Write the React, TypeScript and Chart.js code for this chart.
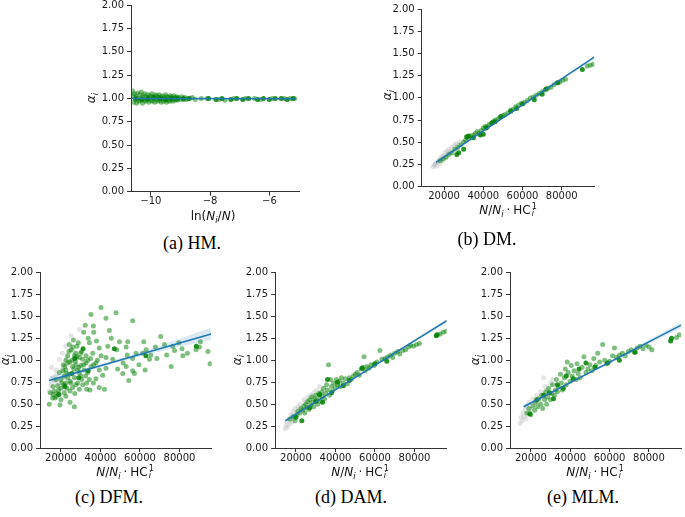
import React, { useEffect, useRef } from 'react';
import { Chart, registerables } from 'chart.js';
Chart.register(...registerables);

type Pt = [number, number];

// ---------- shared tick values ----------
const yTickValues = [0, 0.25, 0.5, 0.75, 1.0, 1.25, 1.5, 1.75, 2.0];
const xTicksLog = [-10, -8, -6];
const xTicksRatio = [20000, 40000, 60000, 80000];

// ---------- (a) HM ----------
const hmGray: Pt[] = [];
const hmLight: Pt[] = [
  [-10.62, 1.08], [-10.6, 1.03], [-10.58, 0.96], [-10.55, 1.05], [-10.52, 0.99], [-10.5, 1.02], [-10.48, 0.95],
  [-10.45, 1.06], [-10.42, 1.0], [-10.4, 0.97], [-10.37, 1.04], [-10.35, 0.98], [-10.32, 1.07], [-10.3, 1.01],
  [-10.28, 0.95], [-10.25, 1.03], [-10.22, 0.98], [-10.2, 1.05], [-10.17, 0.97], [-10.15, 1.02], [-10.12, 0.99],
  [-10.1, 1.04], [-10.07, 0.96], [-10.05, 1.01], [-10.02, 1.03], [-10.0, 0.98], [-9.97, 1.05], [-9.95, 0.97],
  [-9.92, 1.02], [-9.9, 1.0], [-9.87, 0.96], [-9.85, 1.04], [-9.82, 0.99], [-9.8, 1.03], [-9.77, 0.97],
  [-9.75, 1.01], [-9.72, 1.04], [-9.7, 0.98], [-9.67, 1.02], [-9.65, 0.96], [-9.62, 1.0], [-9.6, 1.03],
  [-9.57, 0.97], [-9.55, 1.01], [-9.52, 0.99], [-9.5, 1.04], [-9.47, 0.96], [-9.45, 1.02], [-9.42, 0.98],
  [-9.4, 1.01], [-9.37, 0.97], [-9.35, 1.03], [-9.32, 0.99], [-9.3, 1.02], [-9.27, 0.97], [-9.25, 1.0],
  [-9.22, 1.03], [-9.2, 0.98], [-9.17, 1.01], [-9.15, 0.99], [-9.12, 1.02], [-9.1, 0.98], [-9.05, 1.01],
  [-9.0, 0.99], [-8.95, 1.02], [-8.9, 0.99], [-8.85, 1.01], [-8.8, 0.99], [-8.75, 1.0], [-8.6, 1.01],
  [-8.5, 0.99], [-8.3, 1.0], [-8.1, 1.0], [-7.7, 0.99], [-7.5, 0.98], [-7.2, 1.0], [-6.8, 1.0], [-6.5, 1.0],
  [-6.3, 0.99], [-5.9, 1.0], [-5.5, 1.0], [-5.3, 1.0], [-5.15, 1.0],
];
const hmDark: Pt[] = [
  [-10.5, 1.0], [-10.3, 0.99], [-10.1, 1.0], [-9.9, 1.01], [-9.7, 1.0], [-9.5, 0.99], [-9.3, 1.0], [-9.1, 1.0],
  [-8.9, 1.0], [-8.7, 1.0], [-8.05, 1.0], [-7.8, 0.99], [-7.6, 1.0], [-7.3, 0.99], [-7.1, 1.0], [-6.9, 0.99],
  [-6.7, 1.0], [-6.4, 0.99], [-6.2, 1.0], [-6.0, 0.99], [-5.8, 1.0], [-5.6, 1.0], [-5.4, 0.99], [-5.2, 1.0],
];
const hmFitX = [-10.65, -5.1];
const hmFitY = [1.0, 0.997];
const hmBandX = [-10.65, -8, -5.1];
const hmBandLo = [0.995, 0.996, 0.99];
const hmBandHi = [1.005, 1.002, 1.004];

// ---------- (b) DM ----------
const dmGray: Pt[] = [
  [14500, 0.22], [15000, 0.24], [15500, 0.25], [16000, 0.27], [16500, 0.23], [17000, 0.28], [17500, 0.3],
  [18000, 0.26], [18500, 0.32], [19000, 0.34], [19500, 0.29], [20000, 0.35], [20500, 0.38], [21000, 0.33],
  [21500, 0.4], [22000, 0.37], [22500, 0.42], [23000, 0.39], [24000, 0.44], [25000, 0.46], [26000, 0.48],
  [27000, 0.47], [28000, 0.5],
];
const dmLight: Pt[] = [
  [18000, 0.29], [19500, 0.31], [21000, 0.33], [22500, 0.36], [24000, 0.38], [25500, 0.42], [27000, 0.44],
  [28500, 0.47], [30000, 0.5], [31000, 0.52], [32500, 0.54], [33500, 0.57], [35000, 0.58], [36000, 0.6],
  [37000, 0.62], [38000, 0.6], [39000, 0.63], [40000, 0.66], [41000, 0.68], [42000, 0.67], [43000, 0.7],
  [44000, 0.71], [45000, 0.73], [46000, 0.75], [47500, 0.76], [48500, 0.78], [50000, 0.8], [51000, 0.81],
  [52500, 0.83], [54000, 0.86], [55000, 0.87], [56500, 0.9], [58000, 0.92], [59500, 0.94], [61000, 0.95],
  [62500, 0.97], [64000, 1.0], [65500, 1.01], [67000, 1.03], [68500, 1.05], [70000, 1.07], [71500, 1.09],
  [73000, 1.11], [74500, 1.12], [76000, 1.15], [77500, 1.17], [79000, 1.18], [80500, 1.2], [82000, 1.21],
  [93000, 1.36], [94500, 1.37], [96000, 1.38],
];
const dmDark: Pt[] = [
  [26500, 0.36], [27500, 0.38], [30000, 0.42], [31500, 0.56], [32500, 0.57], [35000, 0.55], [38500, 0.58],
  [40000, 0.59], [41500, 0.66], [44500, 0.72], [46000, 0.73], [49000, 0.79], [54000, 0.85], [57000, 0.88],
  [60000, 0.93], [66000, 0.98], [70000, 1.04], [72000, 1.1], [78000, 1.17], [90500, 1.32],
];
const dmFitX = [15900, 96600];
const dmFitY = [0.27, 1.46];
const dmBandX = [15900, 50000, 96600];
const dmBandLo = [0.26, 0.77, 1.445];
const dmBandHi = [0.28, 0.78, 1.475];

// ---------- (c) DFM ----------
const dfmGray: Pt[] = [
  [14100, 0.65], [14900, 0.71], [15800, 0.8], [16600, 0.76], [17500, 0.89], [17500, 0.63], [17800, 0.84],
  [19200, 1.01], [20800, 1.08], [20800, 0.9], [22500, 1.16], [23000, 1.02], [25100, 1.28], [26000, 1.1],
  [29300, 1.35], [15200, 0.92], [18600, 0.74], [21800, 0.8],
];
const dfmLight: Pt[] = [
  [40280, 1.6], [35200, 1.52], [47900, 1.54], [56300, 1.45], [42800, 1.48], [32300, 1.4], [36400, 1.39],
  [44500, 1.34], [36600, 1.32], [31500, 1.32], [70500, 1.27], [61900, 1.21], [90600, 1.21], [90100, 1.15],
  [94400, 1.1], [95500, 0.96], [88400, 1.12], [81300, 1.13], [77500, 1.11], [76600, 1.16], [79700, 1.2],
  [72400, 1.18], [67800, 1.15], [63100, 1.12], [65500, 1.06], [64800, 1.01], [61400, 1.08], [58000, 1.08],
  [56300, 1.02], [53500, 1.06], [53800, 1.21], [49600, 1.21], [53000, 1.15], [48200, 1.12], [43700, 1.16],
  [39400, 1.14], [42800, 1.03], [46200, 1.01], [48700, 0.9], [53000, 0.93], [56300, 0.88], [54300, 0.77],
  [57200, 0.85], [51300, 0.85], [62600, 0.89], [75800, 0.93], [81700, 1.05], [42800, 0.91], [39400, 0.89],
  [41100, 0.83], [37700, 0.79], [42000, 0.67], [39400, 0.69], [36400, 0.74], [34700, 0.66], [33000, 0.67],
  [34400, 0.78], [31000, 0.72], [30100, 0.82], [28500, 0.89], [27300, 0.99], [27600, 1.08], [28100, 1.16],
  [26300, 1.23], [24200, 1.18], [25100, 1.12], [23400, 1.05], [26800, 1.05], [29300, 1.03], [31000, 1.01],
  [32700, 0.97], [30100, 0.94], [25900, 0.93], [22500, 0.89], [24200, 0.84], [21700, 0.82], [20500, 0.74],
  [18300, 0.71], [16600, 0.65], [14600, 0.63], [14100, 0.5], [15800, 0.57], [17800, 0.59], [20000, 0.55],
  [19500, 0.49], [22500, 0.59], [24600, 0.65], [25900, 0.69], [26800, 0.47], [24600, 0.52], [21700, 0.63],
  [28500, 0.74], [29300, 0.67], [32700, 1.05], [34400, 1.2], [36100, 1.08], [37700, 0.97], [40300, 1.05],
  [23400, 0.97], [21200, 0.95], [19200, 0.86], [17500, 0.78], [20000, 0.78], [22500, 0.74], [24600, 0.76],
  [26800, 0.8], [29300, 0.86], [31800, 0.89], [33500, 0.86], [35200, 0.93], [27000, 0.62], [23000, 0.68],
  [18800, 0.66], [16000, 0.61], [30500, 1.1], [33800, 1.25], [38000, 1.22], [45500, 1.25], [51500, 0.97],
  [59500, 0.95], [68500, 1.02], [84000, 1.08], [73500, 1.06],
  [21000, 0.88], [22000, 0.93], [23500, 0.8], [24500, 0.98], [25500, 1.0], [26500, 0.9], [27500, 0.95],
  [28000, 1.04], [29000, 0.92], [30000, 1.08], [31500, 0.95], [32500, 0.82], [33500, 1.0], [35000, 1.02],
  [36500, 0.95], [38500, 1.0], [20000, 0.68], [18500, 0.62], [17000, 0.57], [16000, 0.7], [21500, 0.72],
  [23000, 0.85], [25000, 0.74], [27500, 0.72], [30500, 0.78], [33000, 0.74], [26000, 1.15], [28800, 1.2],
  [24000, 1.1], [22500, 1.0],
];
const dfmDark: Pt[] = [
  [27000, 1.02], [29000, 0.8], [25500, 0.85], [22000, 0.7], [33800, 0.88], [47000, 1.13], [88500, 1.16],
  [63000, 1.05], [31200, 1.13], [19000, 0.61],
];
const dfmFitX = [14000, 96000];
const dfmFitY = [0.77, 1.3];
const dfmBandX = [14000, 25000, 35000, 55000, 75000, 96000];
const dfmBandLo = [0.725, 0.815, 0.885, 1.015, 1.125, 1.23];
const dfmBandHi = [0.815, 0.865, 0.925, 1.055, 1.205, 1.37];

// ---------- (d) DAM ----------
const damGray: Pt[] = [
  [14500, 0.22], [15000, 0.26], [15500, 0.3], [16000, 0.24], [16500, 0.33], [17000, 0.28], [17500, 0.38],
  [18000, 0.3], [18500, 0.42], [19000, 0.34], [19500, 0.45], [20000, 0.4], [21000, 0.47], [22000, 0.5],
  [23000, 0.44], [24000, 0.55], [25000, 0.52], [26000, 0.58], [27500, 0.6], [29000, 0.63], [30500, 0.66],
  [32000, 0.7],
];
const damLight: Pt[] = [
  [17000, 0.33], [18500, 0.36], [19500, 0.31], [20500, 0.38], [21000, 0.42], [22000, 0.4], [22500, 0.45],
  [23500, 0.43], [24000, 0.48], [24500, 0.4], [25000, 0.5], [25500, 0.46], [26000, 0.53], [26500, 0.44],
  [27000, 0.55], [27500, 0.49], [28000, 0.58], [28500, 0.52], [29000, 0.47], [29500, 0.56], [30000, 0.6],
  [30500, 0.54], [31000, 0.5], [31500, 0.62], [32000, 0.57], [32500, 0.53], [33000, 0.64], [33500, 0.59],
  [34000, 0.68], [34500, 0.56], [35000, 0.62], [35500, 0.72], [36000, 0.66], [36500, 0.95], [37000, 0.6],
  [37500, 0.78], [38000, 0.7], [38500, 0.65], [39000, 0.74], [40000, 0.69], [40500, 0.78], [41000, 0.72],
  [42000, 0.76], [42500, 0.7], [43000, 0.8], [44000, 0.74], [45000, 0.79], [46000, 0.73], [47000, 0.8],
  [48000, 0.78], [49000, 0.82], [50000, 0.84], [51000, 0.86], [52000, 0.83], [53000, 0.9], [54000, 0.92],
  [54500, 1.04], [55000, 0.88], [56000, 0.93], [57000, 0.91], [58000, 0.95], [59500, 0.94], [61000, 0.98],
  [62500, 1.11], [63500, 1.01], [65000, 1.02], [66500, 1.04], [68000, 1.06], [69000, 1.03], [70000, 1.08],
  [71500, 1.1], [72500, 1.07], [74000, 1.11], [75500, 1.12], [77000, 1.15], [78000, 1.17], [79500, 1.16],
  [81000, 1.18], [82500, 1.19], [93000, 1.3], [94500, 1.32], [96000, 1.33],
];
const damDark: Pt[] = [
  [20000, 0.35], [23000, 0.31], [27000, 0.46], [30000, 0.53], [32000, 0.61], [33500, 0.52], [36000, 0.78],
  [38000, 0.63], [41000, 0.75], [44000, 0.71], [47000, 0.77], [53500, 0.91], [60000, 0.96], [66000, 0.99],
  [91000, 1.28], [91500, 1.29],
];
const damFitX = [14600, 96400];
const damFitY = [0.31, 1.45];
const damBandX = [14600, 50000, 96400];
const damBandLo = [0.295, 0.8, 1.43];
const damBandHi = [0.325, 0.81, 1.47];

// ---------- (e) MLM ----------
const mlmGray: Pt[] = [
  [14500, 0.28], [15000, 0.35], [15500, 0.31], [16000, 0.4], [16500, 0.36], [17000, 0.44], [17500, 0.33],
  [18000, 0.48], [18500, 0.38], [19000, 0.52], [20000, 0.44], [21000, 0.56], [22000, 0.5], [23000, 0.6],
  [24000, 0.53], [25000, 0.64], [26000, 0.58], [27000, 0.7], [28500, 0.66], [30000, 0.74], [31000, 0.78],
  [26500, 0.8],
];
const mlmLight: Pt[] = [
  [18000, 0.4], [19000, 0.45], [20000, 0.38], [21000, 0.48], [22000, 0.43], [22500, 0.52], [23500, 0.47],
  [24000, 0.56], [25000, 0.5], [25500, 0.6], [26000, 0.45], [27000, 0.55], [27500, 0.64], [28000, 0.5],
  [28500, 0.58], [29000, 0.68], [30000, 0.55], [30500, 0.62], [31000, 0.72], [32000, 0.6], [32500, 0.66],
  [33000, 0.78], [33500, 0.64], [34000, 0.7], [35000, 0.84], [35500, 0.74], [36000, 0.66], [37000, 0.8],
  [37500, 0.9], [38000, 0.72], [38500, 0.98], [39000, 0.86], [40000, 0.76], [40500, 0.94], [41000, 0.82],
  [42000, 0.88], [43000, 0.78], [43500, 0.96], [44000, 0.85], [45000, 0.8], [46000, 0.92], [47000, 1.04],
  [48000, 0.86], [49000, 0.9], [50000, 0.95], [51000, 0.88], [52000, 1.02], [53000, 0.94], [54000, 1.08],
  [55000, 0.98], [56500, 1.18], [57500, 1.0], [58500, 0.96], [60000, 0.99], [61500, 1.05], [62500, 1.14],
  [63500, 1.03], [65000, 1.06], [66500, 1.08], [68000, 1.05], [69500, 1.1], [71000, 1.12], [72500, 1.09],
  [74000, 1.14], [75500, 1.16], [77000, 1.13], [78500, 1.17], [80000, 1.15], [81500, 1.12], [94000, 1.26],
  [95500, 1.29],
];
const mlmDark: Pt[] = [
  [19500, 0.39], [23000, 0.55], [26500, 0.6], [29500, 0.63], [31500, 0.56], [33500, 0.72], [36500, 0.68],
  [38000, 0.82], [41500, 0.79], [44500, 0.9], [48000, 0.97], [52500, 0.92], [59000, 0.97], [65000, 1.0],
  [73000, 1.09], [91000, 1.22], [91500, 1.25],
];
const mlmFitX = [16300, 96400];
const mlmFitY = [0.47, 1.4];
const mlmBandX = [16300, 45000, 96400];
const mlmBandLo = [0.45, 0.795, 1.37];
const mlmBandHi = [0.49, 0.81, 1.43];

// ---------- layout ----------
interface Area { l: number; r: number; t: number; b: number }
interface PanelSpec {
  left: number; top: number; width: number; height: number; area: Area;
  xMin: number; xMax: number; xTicks: number[];
  gray: Pt[]; light: Pt[]; dark: Pt[];
  fitX: number[]; fitY: number[]; bandX: number[]; bandLo: number[]; bandHi: number[];
}

const panels: PanelSpec[] = [
  { left: 70, top: -5, width: 240, height: 220, area: { l: 131, r: 299, t: 5.3, b: 191.7 },
    xMin: -10.67, xMax: -5.0, xTicks: xTicksLog, gray: hmGray, light: hmLight, dark: hmDark,
    fitX: hmFitX, fitY: hmFitY, bandX: hmBandX, bandLo: hmBandLo, bandHi: hmBandHi },
  { left: 365, top: -1, width: 240, height: 211, area: { l: 421.7, r: 594.3, t: 9.5, b: 186.3 },
    xMin: 8600, xMax: 96600, xTicks: xTicksRatio, gray: dmGray, light: dmLight, dark: dmDark,
    fitX: dmFitX, fitY: dmFitY, bandX: dmBandX, bandLo: dmBandLo, bandHi: dmBandHi },
  { left: 0, top: 262, width: 222, height: 208, area: { l: 40, r: 211.7, t: 272.5, b: 448 },
    xMin: 9400, xMax: 96300, xTicks: xTicksRatio, gray: dfmGray, light: dfmLight, dark: dfmDark,
    fitX: dfmFitX, fitY: dfmFitY, bandX: dfmBandX, bandLo: dfmBandLo, bandHi: dfmBandHi },
  { left: 230, top: 262, width: 225, height: 208, area: { l: 275, r: 446.7, t: 272.5, b: 448 },
    xMin: 9400, xMax: 96300, xTicks: xTicksRatio, gray: damGray, light: damLight, dark: damDark,
    fitX: damFitX, fitY: damFitY, bandX: damBandX, bandLo: damBandLo, bandHi: damBandHi },
  { left: 465, top: 262, width: 220, height: 208, area: { l: 510, r: 681.7, t: 272.5, b: 448 },
    xMin: 9400, xMax: 96300, xTicks: xTicksRatio, gray: mlmGray, light: mlmLight, dark: mlmDark,
    fitX: mlmFitX, fitY: mlmFitY, bandX: mlmBandX, bandLo: mlmBandLo, bandHi: mlmBandHi },
];

const AXIS = '#333333';
const TICK_FONT = { family: 'DejaVu Sans', size: 10 };
const R = 2.5;

function fmtX(v: number) {
  return v < 0 ? '\u2212' + String(Math.abs(v)) : String(v);
}

function Panel({ spec }: { spec: PanelSpec }) {
  const ref = useRef<HTMLCanvasElement>(null);
  useEffect(() => {
    const s = spec;
    const toXY = (a: Pt[]) => a.map(([x, y]) => ({ x, y }));
    const zipXY = (xs: number[], ys: number[]) => xs.map((x, i) => ({ x, y: ys[i] }));
    const padTop = s.area.t - s.top;
    const padRight = s.left + s.width - s.area.r;
    const yW = s.area.l - s.left;
    const xH = s.top + s.height - s.area.b;
    const chart = new Chart(ref.current as HTMLCanvasElement, {
      type: 'scatter',
      data: {
        datasets: [
          { type: 'line', data: zipXY(s.fitX, s.fitY), borderColor: '#1f77b4', borderWidth: 1.5,
            pointRadius: 0, fill: false, order: 0 } as any,
          { type: 'line', data: zipXY(s.bandX, s.bandHi), borderColor: 'rgba(0,0,0,0)', borderWidth: 1,
            pointRadius: 0, fill: '+1', backgroundColor: 'rgba(31,119,180,0.16)', order: 1, tension: 0.3 } as any,
          { type: 'line', data: zipXY(s.bandX, s.bandLo), borderColor: 'rgba(0,0,0,0)', borderWidth: 1,
            pointRadius: 0, fill: false, order: 2, tension: 0.3 } as any,
          { data: toXY(s.dark), backgroundColor: 'rgba(0,128,0,0.85)', pointRadius: R, borderWidth: 0, order: 3 },
          { data: toXY(s.light), backgroundColor: 'rgba(0,128,0,0.5)', pointRadius: R, borderWidth: 0, order: 4 },
          { data: toXY(s.gray), backgroundColor: 'rgba(180,180,180,0.35)', pointRadius: R, borderWidth: 0, order: 5 },
        ],
      },
      options: {
        responsive: false,
        animation: false,
        events: [],
        layout: { padding: { top: padTop, right: padRight, left: 0, bottom: 0 } },
        plugins: { legend: { display: false }, tooltip: { enabled: false } },
        scales: {
          x: {
            type: 'linear', min: s.xMin, max: s.xMax,
            afterBuildTicks: (sc: any) => { sc.ticks = s.xTicks.map((v) => ({ value: v })); },
            afterFit: (sc: any) => { sc.height = xH; },
            ticks: { callback: (v: any) => fmtX(Number(v)), font: TICK_FONT, color: '#1a1a1a', padding: 0,
              maxRotation: 0, autoSkip: false },
            grid: { display: true, drawOnChartArea: false, drawTicks: true, tickLength: 4, tickColor: AXIS, tickWidth: 1 },
            border: { display: true, color: AXIS, width: 1 },
          },
          y: {
            type: 'linear', min: 0, max: 2,
            afterBuildTicks: (sc: any) => { sc.ticks = yTickValues.map((v) => ({ value: v })); },
            afterFit: (sc: any) => { sc.width = yW; },
            ticks: { callback: (v: any) => Number(v).toFixed(2), font: TICK_FONT, color: '#1a1a1a', padding: 3,
              autoSkip: false },
            grid: { display: true, drawOnChartArea: false, drawTicks: true, tickLength: 4, tickColor: AXIS, tickWidth: 1 },
            border: { display: true, color: AXIS, width: 1 },
          },
        },
      } as any,
    });
    return () => chart.destroy();
  }, [spec]);
  return (
    <canvas ref={ref} width={spec.width} height={spec.height}
      style={{ position: 'absolute', left: spec.left, top: spec.top, width: spec.width, height: spec.height }} />
  );
}

const centered = (x: number, y: number): React.CSSProperties => ({
  position: 'absolute', left: x, top: y, transform: 'translate(-50%, -50%)', whiteSpace: 'nowrap', lineHeight: 1,
});
const subStyle: React.CSSProperties = { fontSize: '70%', verticalAlign: '-0.3em', lineHeight: 0 };

function YTitle({ x, y }: { x: number; y: number }) {
  return (
    <div style={{ ...centered(x, y), transform: 'translate(-50%, -50%) rotate(-90deg)', fontFamily: 'DejaVu Sans', fontSize: 12, color: '#111' }}>
      <i>α</i><span style={subStyle}><i>i</i></span>
    </div>
  );
}

function XTitleLog({ x, y }: { x: number; y: number }) {
  return (
    <div style={{ ...centered(x, y), fontFamily: 'DejaVu Sans', fontSize: 12, color: '#111' }}>
      ln(<i>N</i><span style={subStyle}><i>i</i></span>/<i>N</i>)
    </div>
  );
}

function XTitleRatio({ x, y }: { x: number; y: number }) {
  return (
    <div style={{ ...centered(x, y), fontFamily: 'DejaVu Sans', fontSize: 12, color: '#111', display: 'flex', alignItems: 'center' }}>
      <span><i>N</i>/<i>N</i><span style={subStyle}><i>i</i></span></span>
      <span style={{ margin: '0 3px' }}>·</span>
      <span>HC</span>
      <span style={{ display: 'inline-flex', flexDirection: 'column', fontSize: 8, lineHeight: '7px', marginLeft: 1 }}>
        <span>1</span><span><i>i</i></span>
      </span>
    </div>
  );
}

function Caption({ x, y, text }: { x: number; y: number; text: string }) {
  return (
    <div style={{ ...centered(x, y), fontFamily: 'Liberation Serif', fontSize: 18, color: '#000' }}>{text}</div>
  );
}

export default function App() {
  return (
    <div style={{ position: 'absolute', left: 0, top: 0, width: 685, height: 517, background: '#fff', overflow: 'hidden' }}>
      {panels.map((p, i) => <Panel key={i} spec={p} />)}
      <YTitle x={91} y={98} />
      <YTitle x={386.7} y={95} />
      <YTitle x={5} y={360} />
      <YTitle x={236.7} y={360} />
      <YTitle x={475} y={360} />
      <XTitleLog x={213} y={216} />
      <XTitleRatio x={508} y={210} />
      <XTitleRatio x={125} y={472} />
      <XTitleRatio x={360} y={472} />
      <XTitleRatio x={595} y={472} />
      <Caption x={192} y={243} text="(a) HM." />
      <Caption x={487} y={239} text="(b) DM." />
      <Caption x={109} y={497} text="(c) DFM." />
      <Caption x={351} y={497} text="(d) DAM." />
      <Caption x={583} y={497} text="(e) MLM." />
    </div>
  );
}
